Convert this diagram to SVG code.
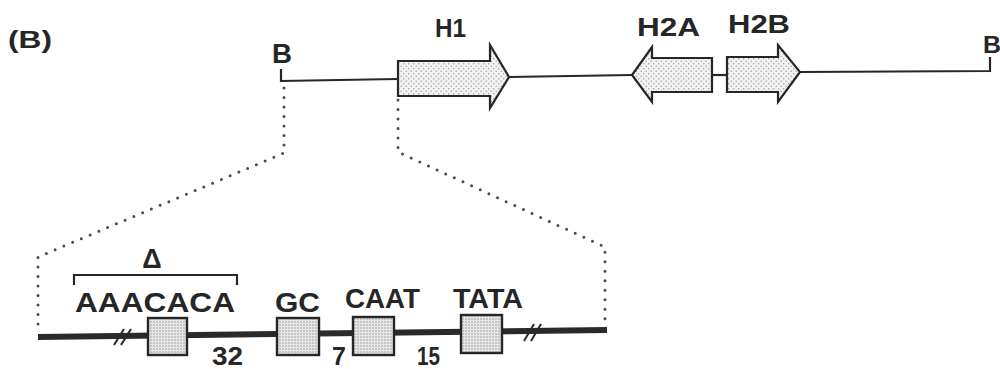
<svg xmlns="http://www.w3.org/2000/svg" width="1000" height="369" viewBox="0 0 1000 369">
<style>
  text { font-family: "Liberation Sans", Arial, sans-serif; font-weight: bold; fill: #262626; }
  .line { fill: none; stroke: #262626; stroke-width: 2.2; }
  .dots { fill: none; stroke: #4a4a4a; stroke-width: 3; stroke-linecap: round; stroke-dasharray: 0 9.5; }
  .gene { fill: url(#stip); stroke: #262626; stroke-width: 2.2; stroke-linejoin: miter; }
  .box { fill: url(#stip2); stroke: #262626; stroke-width: 2.4; }
  .bar { fill: none; stroke: #2a2a2a; stroke-width: 6; }
  .brk { stroke: #2a2a2a; stroke-width: 2; fill: none; }
</style>
<defs>
  <pattern id="stip" width="5" height="5" patternUnits="userSpaceOnUse">
    <rect width="5" height="5" fill="#f2f2f2"/>
    <circle cx="1.2" cy="1.2" r="0.7" fill="#999"/>
    <circle cx="3.7" cy="3.7" r="0.7" fill="#999"/>
  </pattern>
  <pattern id="stip2" width="3" height="3" patternUnits="userSpaceOnUse">
    <rect width="3" height="3" fill="#e6e6e6"/>
    <circle cx="1" cy="1" r="0.7" fill="#8a8a8a"/>
  </pattern>
</defs>

<text x="8" y="48" font-size="24" textLength="44" lengthAdjust="spacingAndGlyphs">(B)</text>

<g id="connectors">
  <path class="line" d="M281,69 V81 L398,79"/>
  <path class="line" d="M509,77 L632,75"/>
  <path class="line" d="M712,75 L727,75"/>
  <path class="line" d="M800,72 L990,71 V57"/>
  <path class="dots" d="M284,88 V153 L38,257 V331"/>
  <path class="dots" d="M398,100 V152 L605,247 V325"/>
</g>

<g id="B-left"><text x="272" y="63" font-size="28" textLength="20" lengthAdjust="spacingAndGlyphs">B</text></g>
<g id="B-right"><text x="983" y="53" font-size="23" textLength="18" lengthAdjust="spacingAndGlyphs">B</text></g>

<g id="H1">
  <path class="gene" d="M398,61 H490 V45 L509,77 L490,108 V96 H398 Z"/>
  <text x="435" y="37" font-size="26" textLength="31" lengthAdjust="spacingAndGlyphs">H1</text>
</g>
<g id="H2A">
  <path class="gene" d="M712,58 H652 V47 L632,75 L652,102 V92 H712 Z"/>
  <text x="637" y="36" font-size="26" textLength="63" lengthAdjust="spacingAndGlyphs">H2A</text>
</g>
<g id="H2B">
  <path class="gene" d="M727,57 H778 V45 L800,72 L778,102 V92 H727 Z"/>
  <text x="728" y="33" font-size="26" textLength="62" lengthAdjust="spacingAndGlyphs">H2B</text>
</g>

<g id="promoter">
  <path class="bar" d="M38,337 L607,330"/>
  <g class="brk">
    <line x1="114" y1="345" x2="124" y2="329"/>
    <line x1="121" y1="345" x2="131" y2="329"/>
    <line x1="524" y1="341" x2="534" y2="324"/>
    <line x1="531" y1="341" x2="541" y2="324"/>
  </g>
</g>

<g id="delta">
  <path class="line" d="M74,285 V275 H237 V285"/>
  <text x="152" y="268" font-size="27" text-anchor="middle">Δ</text>
</g>

<g id="AAACACA">
  <rect class="box" x="148" y="318" width="39" height="37"/>
  <text x="75" y="312" font-size="28" textLength="160" lengthAdjust="spacingAndGlyphs">AAACACA</text>
</g>
<g id="GC">
  <rect class="box" x="277" y="318" width="42" height="37"/>
  <text x="275" y="312" font-size="28" textLength="45" lengthAdjust="spacingAndGlyphs">GC</text>
</g>
<g id="CAAT">
  <rect class="box" x="353" y="317" width="41" height="38"/>
  <text x="345" y="308" font-size="27" textLength="75" lengthAdjust="spacingAndGlyphs">CAAT</text>
</g>
<g id="TATA">
  <rect class="box" x="461" y="315" width="41" height="38"/>
  <text x="453" y="308" font-size="27" textLength="70" lengthAdjust="spacingAndGlyphs">TATA</text>
</g>

<g id="distances">
  <text x="212" y="365" font-size="25" textLength="31" lengthAdjust="spacingAndGlyphs">32</text>
  <text x="332" y="365" font-size="25">7</text>
  <text x="417" y="365" font-size="25" textLength="23" lengthAdjust="spacingAndGlyphs">15</text>
</g>
</svg>
